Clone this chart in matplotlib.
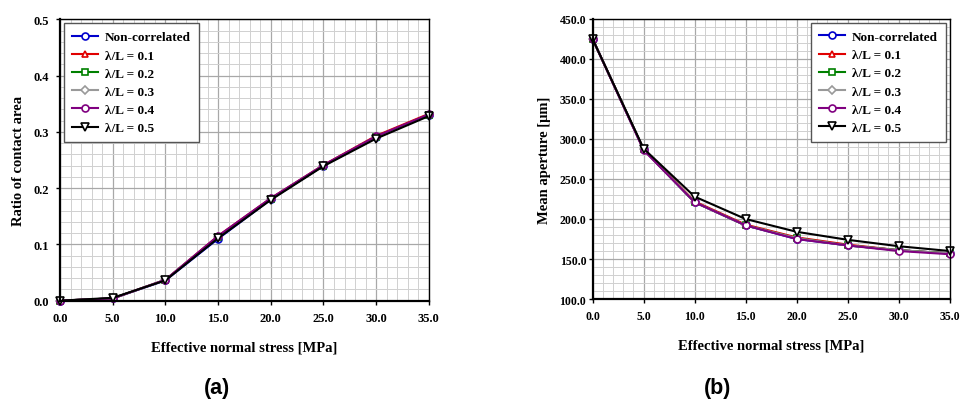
import matplotlib.pyplot as plt
from matplotlib.ticker import MultipleLocator, FormatStrFormatter

stress = [0, 5, 10, 15, 20, 25, 30, 35]
labels = ['Non-correlated', 'λ/L = 0.1', 'λ/L = 0.2', 'λ/L = 0.3', 'λ/L = 0.4', 'λ/L = 0.5']

# ratio of contact area, panel (a)
ratio_nc = [0.0, 0.004, 0.036, 0.110, 0.180, 0.240, 0.290, 0.330]
ratio_01 = [0.0, 0.004, 0.037, 0.115, 0.182, 0.241, 0.293, 0.332]
ratio_02 = [0.0, 0.004, 0.037, 0.113, 0.181, 0.240, 0.291, 0.330]
ratio_03 = [0.0, 0.004, 0.037, 0.113, 0.181, 0.240, 0.291, 0.330]
ratio_04 = [0.0, 0.004, 0.037, 0.115, 0.182, 0.241, 0.292, 0.331]
ratio_05 = [0.0, 0.005, 0.036, 0.111, 0.179, 0.239, 0.288, 0.328]

# mean aperture [um], panel (b)
aper_nc = [425, 287, 221, 192, 175, 167, 161, 157]
aper_01 = [425, 287, 222, 193, 177, 168, 161, 157]
aper_02 = [425, 287, 221, 192, 176, 167, 161, 157]
aper_03 = [425, 287, 221, 192, 176, 167, 161, 157]
aper_04 = [425, 286, 221, 192, 175, 167, 160, 156]
aper_05 = [425, 288, 228, 200, 184, 174, 166, 160]

colors = ['#0000cc', '#e00000', '#008000', '#999999', '#800080', '#000000']
markers = ['o', '^', 's', 'D', 'o', 'v']
msizes = [5, 5, 4.5, 4.5, 5, 5.5]

serif = 'Liberation Serif'
fig = plt.figure(figsize=(9.73, 4.06), dpi=100)
ax1 = fig.add_axes([0.0617, 0.257, 0.379, 0.693])
ax2 = fig.add_axes([0.609, 0.261, 0.367, 0.690])


def draw(ax, series, ylim, major, minor, ylabel, tick_size, ypad):
    for ys, lab, c, m, ms in zip(series, labels, colors, markers, msizes):
        ax.plot(stress, ys, color=c, marker=m, markersize=ms, markerfacecolor='white',
                markeredgecolor=c, markeredgewidth=1.2, linewidth=1.5, label=lab, clip_on=False)
    ax.set_xlim(0, 35)
    ax.set_ylim(*ylim)
    ax.xaxis.set_major_locator(MultipleLocator(5))
    ax.xaxis.set_minor_locator(MultipleLocator(1))
    ax.yaxis.set_major_locator(MultipleLocator(major))
    ax.yaxis.set_minor_locator(MultipleLocator(minor))
    ax.xaxis.set_major_formatter(FormatStrFormatter('%.1f'))
    ax.yaxis.set_major_formatter(FormatStrFormatter('%.1f'))
    ax.grid(which='major', color='#a8a8a8', linewidth=0.9)
    ax.grid(which='minor', color='#d0d0d0', linewidth=0.7)
    ax.set_axisbelow(True)
    for s in ax.spines.values():
        s.set_color('black')
        s.set_linewidth(1.0)
    ax.spines['left'].set_linewidth(1.6)
    ax.spines['bottom'].set_linewidth(1.6)
    ax.tick_params(which='major', direction='out', length=3, width=1, pad=5)
    ax.tick_params(axis='y', which='major', pad=ypad)
    ax.tick_params(which='minor', length=0)
    for t in ax.get_xticklabels() + ax.get_yticklabels():
        t.set_fontfamily(serif)
        t.set_fontweight('bold')
        t.set_fontsize(tick_size)
    ax.set_xlabel('Effective normal stress [MPa]', fontfamily=serif, fontweight='bold',
                  fontsize=10.5, labelpad=12)
    ax.set_ylabel(ylabel, fontfamily=serif, fontweight='bold', fontsize=10.5, labelpad=6)
    leg = ax.legend(loc='upper left' if ax is ax1 else 'upper right', fancybox=False,
                    edgecolor='#555555', framealpha=1, borderaxespad=0.3, handlelength=2.0,
                    handletextpad=0.5, borderpad=0.6, labelspacing=0.45,
                    prop={'family': serif, 'weight': 'bold', 'size': 9.5})
    leg.get_frame().set_linewidth(1.0)


draw(ax1, [ratio_nc, ratio_01, ratio_02, ratio_03, ratio_04, ratio_05],
     (0, 0.5), 0.1, 0.02, 'Ratio of contact area', 9, 5)
draw(ax2, [aper_nc, aper_01, aper_02, aper_03, aper_04, aper_05],
     (100, 450), 50, 10, 'Mean aperture [μm]', 8.5, 1.5)

fig.text(0.223, 0.03, '(a)', fontfamily='Liberation Sans', fontweight='bold', fontsize=15.5, ha='center')
fig.text(0.737, 0.03, '(b)', fontfamily='Liberation Sans', fontweight='bold', fontsize=15.5, ha='center')

plt.savefig('out.png', dpi=100)
plt.close()
